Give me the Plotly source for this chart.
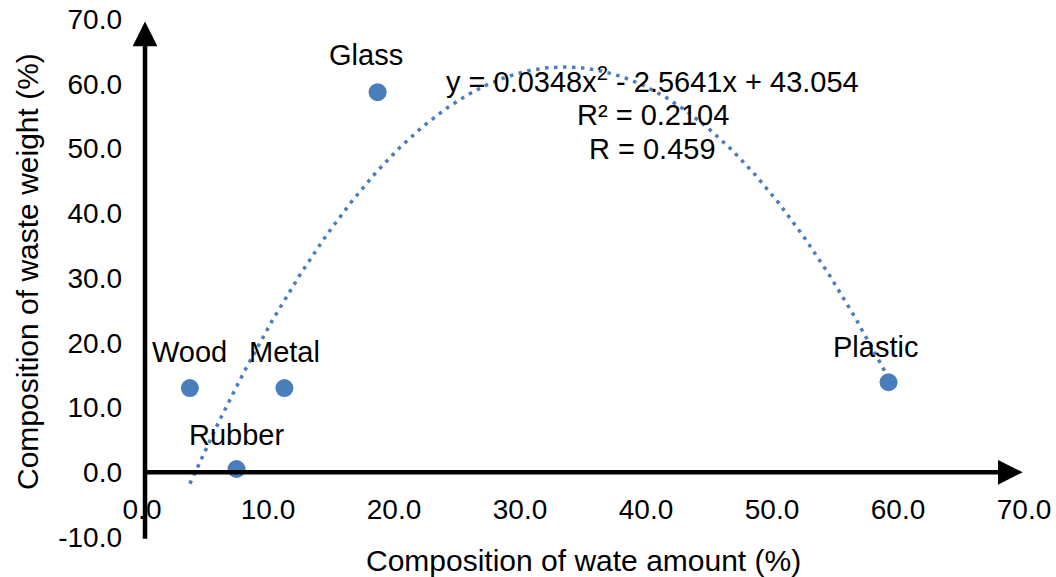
import numpy as np
import plotly.graph_objects as go

materials = ["Wood", "Rubber", "Metal", "Glass", "Plastic"]
amount_pct = [3.8, 7.5, 11.3, 18.7, 59.25]     # composition of waste amount (%)
weight_pct = [13.0, 0.5, 13.0, 58.7, 13.9]     # composition of waste weight (%)
label_xshift = [0, 0, 0, -12, -13]
label_yshift = [36, 34, 36, 37, 35]

x_ticks = [0, 10, 20, 30, 40, 50, 60, 70]
y_ticks = [-10, 0, 10, 20, 30, 40, 50, 60, 70]
equation_lines = ["y = 0.0348x<sup>2</sup> - 2.5641x + 43.054", "R² = 0.2104", "R = 0.459"]
equation_y = [0.882, 0.815, 0.749]

# polynomial (order 2) trendline fitted to the data
coef = np.polyfit(amount_pct, weight_pct, 2)
xt = np.linspace(min(amount_pct), max(amount_pct), 300)
yt = np.polyval(coef, xt)

FONT = "Liberation Sans, Arial, sans-serif"
BLUE = "#4A7EBB"

fig = go.Figure()
fig.add_trace(go.Scatter(x=xt, y=yt, mode="lines",
                         line=dict(color=BLUE, width=3.5, dash="3.5px,5.5px"),
                         hoverinfo="skip", showlegend=False))
fig.add_trace(go.Scatter(x=amount_pct, y=weight_pct, mode="markers",
                         marker=dict(color=BLUE, size=18),
                         showlegend=False))

for name, xv, yv, xs, ys in zip(materials, amount_pct, weight_pct, label_xshift, label_yshift):
    fig.add_annotation(x=xv, y=yv, text=name, showarrow=False, xref="x", yref="y",
                       yshift=ys, xshift=xs, font=dict(size=29, color="black", family=FONT))

for line, yl in zip(equation_lines, equation_y):
    fig.add_annotation(x=0.579, y=yl, xref="paper", yref="paper", text=line,
                       showarrow=False, align="center", yanchor="middle",
                       font=dict(size=29, color="black", family=FONT))

# axis lines with arrows
fig.add_annotation(x=0.24, y=69.6, ax=0.24, ay=-10.5, xref="x", yref="y", axref="x", ayref="y",
                   text="", showarrow=True, arrowhead=2, arrowsize=1.1, arrowwidth=4.5, arrowcolor="black")
fig.add_annotation(x=69.9, y=0, ax=0.24, ay=0, xref="x", yref="y", axref="x", ayref="y",
                   text="", showarrow=True, arrowhead=2, arrowsize=1.1, arrowwidth=4.5, arrowcolor="black")

# axis titles
fig.add_annotation(x=0.5, y=-0.045, xref="paper", yref="paper", yanchor="middle",
                   text="Composition of wate amount (%)", showarrow=False,
                   font=dict(size=30, color="black", family=FONT))
fig.add_annotation(x=-0.129, y=0.512, xref="paper", yref="paper", textangle=-90,
                   xanchor="center", yanchor="middle",
                   text="Composition of waste weight (%)", showarrow=False,
                   font=dict(size=30, color="black", family=FONT))

fig.update_layout(
    width=1056, height=577,
    margin=dict(l=142, r=32, t=19, b=40, autoexpand=False),
    paper_bgcolor="white", plot_bgcolor="white",
    font=dict(family=FONT, color="black"),
    xaxis=dict(range=[0, 70], tickvals=x_ticks, ticktext=[f"{v:.1f}" for v in x_ticks],
               showgrid=False, zeroline=False, showline=False, ticks="", automargin=False,
               anchor="free", position=0.125, tickfont=dict(size=28), ticklabelstandoff=18,
               ticklabeloverflow="allow"),
    yaxis=dict(range=[-10, 70], tickvals=y_ticks, ticktext=[f"{v:.1f}" for v in y_ticks],
               showgrid=False, zeroline=False, showline=False, ticks="", automargin=False,
               tickfont=dict(size=28), ticklabelstandoff=19, ticklabeloverflow="allow"),
)

# remove the default 8px page margin so the figure fills the 1056x577 window
fig.write_html("out.html", config={"displayModeBar": False},
               post_script="document.body.style.margin='0';document.body.style.overflow='hidden';")
